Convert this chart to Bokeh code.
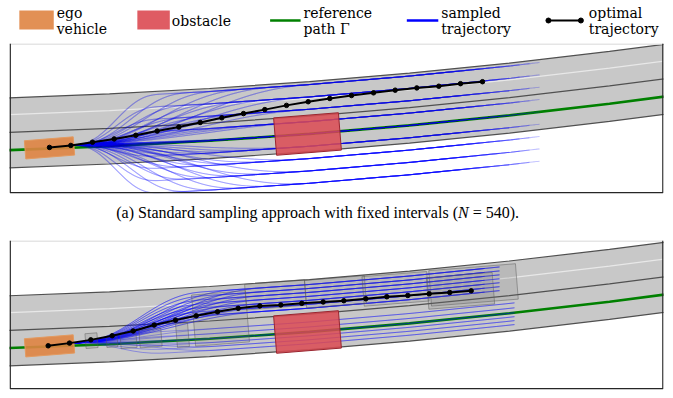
import numpy as np
from bokeh.plotting import figure
from bokeh.layouts import column
from bokeh.models import Range1d
from bokeh.core.properties import value
from bokeh.embed import file_html
from bokeh.resources import INLINE

# ---------------- data (metres) ----------------
road_x = [-2, 0, 10, 20, 30, 40, 50, 60, 68]
road_center_y = [6.14, 6.20, 6.59, 7.14, 7.84, 8.70, 9.72, 10.90, 11.95]
edge_top_offset = 3.5
edge_bottom_offset = -3.6
upper_lane_offset = 1.8
ref_path_offset = -1.8

ego = dict(x=4.0, y=4.62, length=4.9, width=1.85, angle=0.08)
obstacle = dict(x=29.8, y=6.03, length=6.5, width=3.8, angle=0.08)

# optimal trajectory, panel (a)
opt_a_x = [4.0, 6.13, 8.3, 10.47, 12.63, 14.77, 16.93, 19.07, 21.23, 23.4, 25.53,
           27.7, 29.87, 32.03, 34.2, 36.4, 38.57, 40.73, 42.93, 45.1, 47.3]
opt_a_y = [4.67, 4.87, 5.2, 5.53, 5.9, 6.33, 6.73, 7.2, 7.67, 8.1, 8.5,
           8.93, 9.3, 9.63, 9.93, 10.2, 10.47, 10.7, 10.87, 11.13, 11.33]
# optimal trajectory, panel (b)
opt_b_x = [3.87, 6.0, 8.13, 10.27, 12.37, 14.47, 16.6, 18.67, 20.8, 22.87, 25.03,
           27.13, 29.23, 31.37, 33.43, 35.63, 37.73, 39.83, 41.97, 44.03, 46.17]
opt_b_y = [4.63, 4.9, 5.23, 5.65, 6.13, 6.73, 7.23, 7.67, 8.07, 8.43, 8.67,
           8.77, 8.93, 9.07, 9.2, 9.4, 9.6, 9.73, 9.9, 10.03, 10.2]

# sampling grid, panel (a): lateral offsets x transition lengths x end positions = 540
a_offsets = [-5.0, -3.75, -2.5, -1.25, 0.0, 1.25, 2.5, 3.75, 5.0]
a_trans = [9, 12, 15, 18, 21, 25]
a_ends = [44, 45, 46, 47, 48, 49, 50, 51, 52, 53]

# samples, panel (b)
b_up_offsets = [2.4, 2.8, 3.2, 3.6, 4.0, 4.4, 4.8]
b_up_trans = [14, 17, 20]
b_up_ends = [47.5, 49.0]
b_lo_offsets = [-1.2, -0.8, -0.4, 0.0, 0.5, 1.0]
b_lo_trans = [10, 16]
b_lo_ends = [50.5]

# grey sampling regions, panel (b)
box_x = [8.2, 10.25, 11.9, 14.1, 17.3, 21.1, 26.6, 32.6, 38.6, 45.1, 46.4]
box_y = [5.15, 5.05, 5.2, 5.4, 5.7, 7.4, 9.8, 10.1, 10.4, 10.2, 10.8]
box_len = [1.2, 1.1, 1.6, 2.2, 1.2, 5.4, 6.0, 6.0, 6.5, 6.6, 8.7]
box_wid = [1.5, 1.1, 1.6, 1.8, 2.4, 5.2, 2.6, 2.8, 3.0, 3.2, 3.6]

caption_a = "(a) Standard sampling approach with fixed intervals ("
caption_n = "N"
caption_end = " = 540)."

SERIF = "DejaVu Serif"
TIMES = "Liberation Serif"
W = 665
X_MAX = 65.4


def center(xs):
    return np.interp(xs, road_x, road_center_y)


def samples(x0, y0, offsets, trans, ends, n=50):
    d0 = y0 - (center(x0) + ref_path_offset)
    xs_all, ys_all = [], []
    for d in offsets:
        for L in trans:
            for xe in ends:
                xs = np.linspace(x0, xe, n)
                t = np.clip((xs - x0) / L, 0, 1)
                s = t ** 3 * (10 - 15 * t + 6 * t ** 2)
                ys = center(xs) + ref_path_offset + d0 + (d - d0) * s
                xs_all.append(xs.tolist())
                ys_all.append(ys.tolist())
    return xs_all, ys_all


def panel(y0, y1, h):
    p = figure(width=W, height=h, x_range=Range1d(0, X_MAX), y_range=Range1d(y0, y1),
               toolbar_location=None, output_backend="svg",
               min_border_left=9, min_border_right=2, min_border_top=1, min_border_bottom=1,
               x_axis_location=None, y_axis_location=None, outline_line_color=None)
    p.grid.visible = False
    rx = np.array(road_x, dtype=float)
    cy = np.array(road_center_y)
    p.patch(np.concatenate([rx, rx[::-1]]),
            np.concatenate([cy + edge_top_offset, (cy + edge_bottom_offset)[::-1]]),
            fill_color="#c8c8c8", line_color=None)
    for off, col, w in [(edge_top_offset, "#505050", 1.2), (0.0, "#505050", 1.2),
                        (edge_bottom_offset, "#505050", 1.2), (upper_lane_offset, "#e8e8e8", 1.2)]:
        p.line(rx, cy + off, line_color=col, line_width=w)
    p.line(rx, cy + ref_path_offset, line_color="#008000", line_width=2.6)
    return p


def finish(p, ox, oy, y0, y1):
    p.rect(x=[obstacle["x"]], y=[obstacle["y"]], width=obstacle["length"], height=obstacle["width"],
           angle=obstacle["angle"], fill_color="#dc4a52", fill_alpha=0.85, line_color="#9a2630", line_width=1)
    p.rect(x=[ego["x"]], y=[ego["y"]], width=ego["length"], height=ego["width"],
           angle=ego["angle"], fill_color="#df8443", fill_alpha=0.9, line_color="#e39a60", line_width=1)
    p.line(ox, oy, line_color="black", line_width=2)
    p.scatter(ox, oy, size=4.5, color="black")
    # frame: light top, dark left/right/bottom
    p.line([0, X_MAX], [y1 - 0.06, y1 - 0.06], line_color="#dcdcdc", line_width=1.5)
    p.line([0.07, 0.07, X_MAX - 0.06, X_MAX - 0.06], [y1, y0 + 0.07, y0 + 0.07, y1],
           line_color="#262626", line_width=1.4)


# ---------------- panel (a) ----------------
p1 = panel(0.0, 15.2, 152)
xa, ya = samples(6.13, 4.87, a_offsets, a_trans, a_ends)
p1.multi_line(xa, ya, line_color="blue", line_alpha=0.045, line_width=1.1)
finish(p1, opt_a_x, opt_a_y, 0.0, 15.2)

# ---------------- panel (b) ----------------
p2 = panel(0.2, 15.3, 151)
xb1, yb1 = samples(6.0, 4.9, b_up_offsets, b_up_trans, b_up_ends)
xb2, yb2 = samples(6.0, 4.9, b_lo_offsets, b_lo_trans, b_lo_ends)
p2.multi_line(xb1 + xb2, yb1 + yb2, line_color="blue", line_alpha=0.4, line_width=0.8)
p2.rect(x=box_x, y=box_y, width=box_len, height=box_wid, angle=0.08,
        fill_color="#707070", fill_alpha=0.17, line_color="#555555", line_alpha=0.45, line_width=1)
finish(p2, opt_b_x, opt_b_y, 0.2, 15.3)

# ---------------- legend ----------------
lf = figure(width=W, height=42, x_range=Range1d(0, W), y_range=Range1d(42, 0),
            toolbar_location=None, output_backend="svg", min_border=0,
            x_axis_location=None, y_axis_location=None, outline_line_color=None)
lf.grid.visible = False
lf.quad(left=[10], right=[45], top=[10], bottom=[29], fill_color="#df8443", fill_alpha=0.9, line_color=None)
lf.quad(left=[130], right=[163], top=[10], bottom=[29], fill_color="#dc4a52", fill_alpha=0.9, line_color=None)
lf.line([265, 296], [20, 20], line_color="#008000", line_width=2.6)
lf.line([404, 436], [20, 20], line_color="blue", line_width=2.6)
lf.line([548, 581], [20, 20], line_color="black", line_width=2)
lf.scatter([548, 581], [20, 20], size=5, color="black")
leg_x = [48, 48, 165, 299, 299, 439, 439, 589, 589]
leg_y = [12, 28, 20, 12, 28, 12, 28, 12, 28]
leg_t = ["ego", "vehicle", "obstacle", "reference", "path  \u0393", "sampled", "trajectory", "optimal", "trajectory"]
lf.text(x=leg_x, y=leg_y, text=leg_t, text_font=value(SERIF), text_font_size="14px",
        text_baseline="middle", text_align="left", text_color="black")

# ---------------- caption ----------------
cf = figure(width=W, height=45, x_range=Range1d(0, W), y_range=Range1d(45, 0),
            toolbar_location=None, output_backend="svg", min_border=0,
            x_axis_location=None, y_axis_location=None, outline_line_color=None)
cf.grid.visible = False
cf.text(x=[456], y=[18], text=[caption_a], text_font=value(TIMES), text_font_size="16px",
        text_baseline="middle", text_align="right")
cf.text(x=[456], y=[18], text=[caption_n], text_font=value(TIMES), text_font_size="16px",
        text_font_style="italic", text_baseline="middle", text_align="left")
cf.text(x=[471], y=[18], text=[caption_end], text_font=value(TIMES), text_font_size="16px",
        text_baseline="middle", text_align="left")

layout = column(lf, p1, cf, p2, spacing=0)
open("out.html", "w").write(file_html(layout, INLINE))
